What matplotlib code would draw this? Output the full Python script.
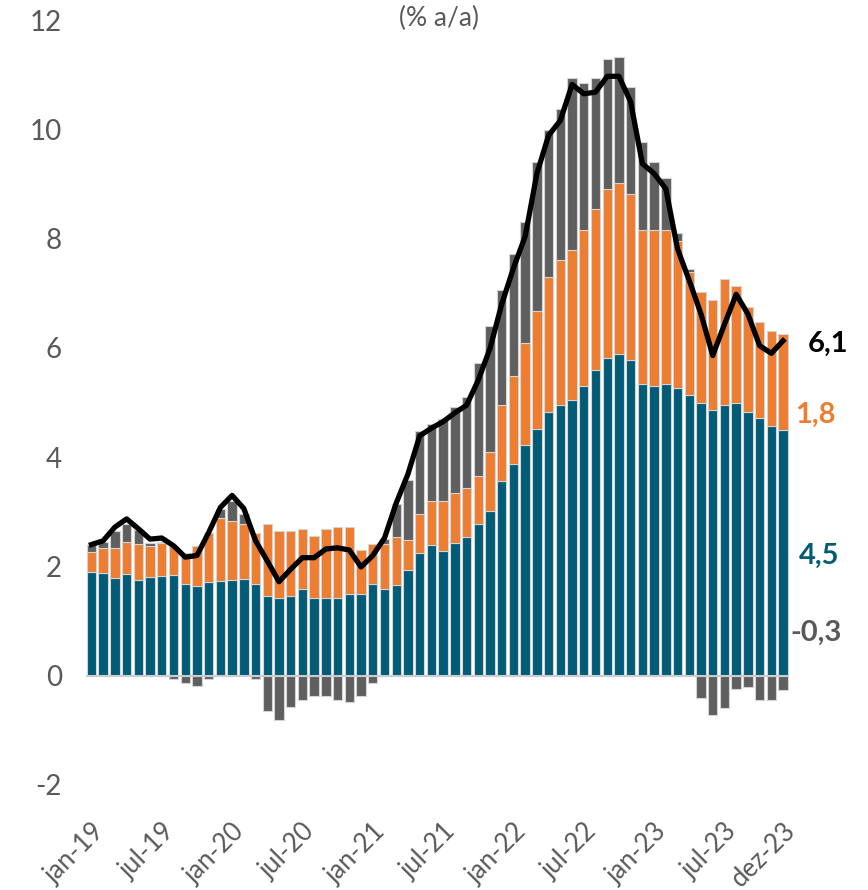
import matplotlib.pyplot as plt
import numpy as np

plt.rcParams['font.family'] = ['Lato', 'DejaVu Sans']

meses = ['jan-19', 'jul-19', 'jan-20', 'jul-20', 'jan-21', 'jul-21',
         'jan-22', 'jul-22', 'jan-23', 'jul-23', 'dez-23']
pos_meses = [0, 6, 12, 18, 24, 30, 36, 42, 48, 54, 59]

# componentes (p.p.), jan-19 .. dez-23
teal = [1.89, 1.88, 1.79, 1.86, 1.75, 1.81, 1.82, 1.85, 1.67, 1.65, 1.71, 1.74,
        1.75, 1.77, 1.67, 1.46, 1.43, 1.46, 1.58, 1.43, 1.43, 1.43, 1.50, 1.49,
        1.67, 1.59, 1.66, 1.93, 2.25, 2.39, 2.29, 2.42, 2.53, 2.77, 3.02, 3.56,
        3.88, 4.23, 4.51, 4.82, 4.95, 5.05, 5.30, 5.60, 5.81, 5.89, 5.78, 5.34,
        5.31, 5.33, 5.27, 5.13, 4.99, 4.86, 4.96, 4.99, 4.83, 4.72, 4.57, 4.50]
laranja = [0.37, 0.46, 0.55, 0.59, 0.66, 0.57, 0.60, 0.52, 0.58, 0.72, 0.90, 1.14,
           1.09, 1.00, 0.94, 1.31, 1.21, 1.18, 1.10, 1.13, 1.25, 1.29, 1.22, 0.81,
           0.74, 0.82, 0.87, 0.55, 0.71, 0.80, 0.90, 0.93, 0.90, 0.88, 1.07, 1.39,
           1.61, 1.85, 2.16, 2.47, 2.66, 2.75, 2.86, 2.95, 3.09, 3.13, 3.04, 2.82,
           2.85, 2.83, 2.68, 2.26, 2.03, 2.01, 2.30, 2.15, 1.92, 1.76, 1.74, 1.76]
cinza = [0.13, 0.10, 0.30, 0.32, 0.25, 0.05, 0.02, -0.06, -0.13, -0.18, -0.06, 0.17,
         0.36, 0.19, -0.06, -0.64, -0.81, -0.57, -0.45, -0.38, -0.38, -0.45, -0.49, -0.38,
         -0.13, 0.10, 0.62, 1.10, 1.52, 1.41, 1.51, 1.57, 1.67, 2.08, 2.31, 2.11,
         2.23, 2.22, 2.73, 2.70, 2.77, 3.13, 2.69, 2.38, 2.38, 2.30, 1.96, 1.60,
         1.24, 0.94, 0.16, 0.06, -0.41, -0.72, -0.60, -0.25, -0.21, -0.44, -0.44, -0.26]
total = [2.40, 2.47, 2.72, 2.87, 2.69, 2.50, 2.52, 2.38, 2.17, 2.20, 2.62, 3.08,
         3.30, 3.06, 2.47, 2.10, 1.72, 1.95, 2.16, 2.16, 2.32, 2.34, 2.30, 1.99,
         2.20, 2.52, 3.16, 3.69, 4.39, 4.53, 4.65, 4.81, 4.95, 5.41, 5.99, 6.80,
         7.46, 8.04, 9.19, 9.89, 10.16, 10.82, 10.65, 10.68, 10.97, 10.97, 10.50, 9.37,
         9.19, 8.91, 7.81, 7.23, 6.62, 5.86, 6.43, 6.98, 6.62, 6.04, 5.90, 6.13]

c_teal = '#005b76'
c_lar = '#ed7d31'
c_cin = '#5f5f5f'
c_txt = '#595959'

x = np.arange(len(teal))
teal = np.array(teal)
laranja = np.array(laranja)
cinza = np.array(cinza)
base_cinza = np.where(cinza > 0, teal + laranja, 0)

fig = plt.figure(figsize=(8.68, 8.90), dpi=100)
ax = fig.add_axes([0.0986, 0.118, 0.8103, 0.8595])

kw = dict(width=0.8, edgecolor='#d4d4d4', linewidth=0.8)
ax.bar(x, teal, color=c_teal, **kw)
ax.bar(x, laranja, bottom=teal, color=c_lar, **kw)
ax.bar(x, cinza, bottom=base_cinza, color=c_cin, **kw)
ax.axhline(0, color='#c8ccd4', lw=1.5, zorder=3)
ax.plot(x, total, color='black', lw=3.8, zorder=4, solid_joinstyle='round')

ax.set_xlim(-0.5, 59.5)
ax.set_ylim(-2, 12)
ax.set_yticks(range(-2, 13, 2))
ax.set_yticklabels([str(v) for v in range(-2, 13, 2)])
ax.set_xticks(pos_meses)
ax.set_xticklabels(meses, rotation=45, ha='right', rotation_mode='anchor')
ax.tick_params(axis='y', length=0, pad=17, labelsize=20, labelcolor=c_txt)
ax.tick_params(axis='x', length=0, pad=24, labelsize=18.5, labelcolor=c_txt)
for s in ax.spines.values():
    s.set_visible(False)

rot = dict(fontsize=21, fontweight='bold', ha='center', va='center')
ax.text(62.8, 6.08, '6,1', color='black', **rot)
ax.text(61.8, 4.78, '1,8', color=c_lar, **rot)
ax.text(62.1, 2.19, '4,5', color=c_teal, **rot)
ax.text(61.8, 0.79, '-0,3', color=c_txt, **rot)

fig.text(0.506, 0.979, '(% a/a)', ha='center', va='center', fontsize=19, color=c_txt)

fig.savefig('out.png', dpi=100)
